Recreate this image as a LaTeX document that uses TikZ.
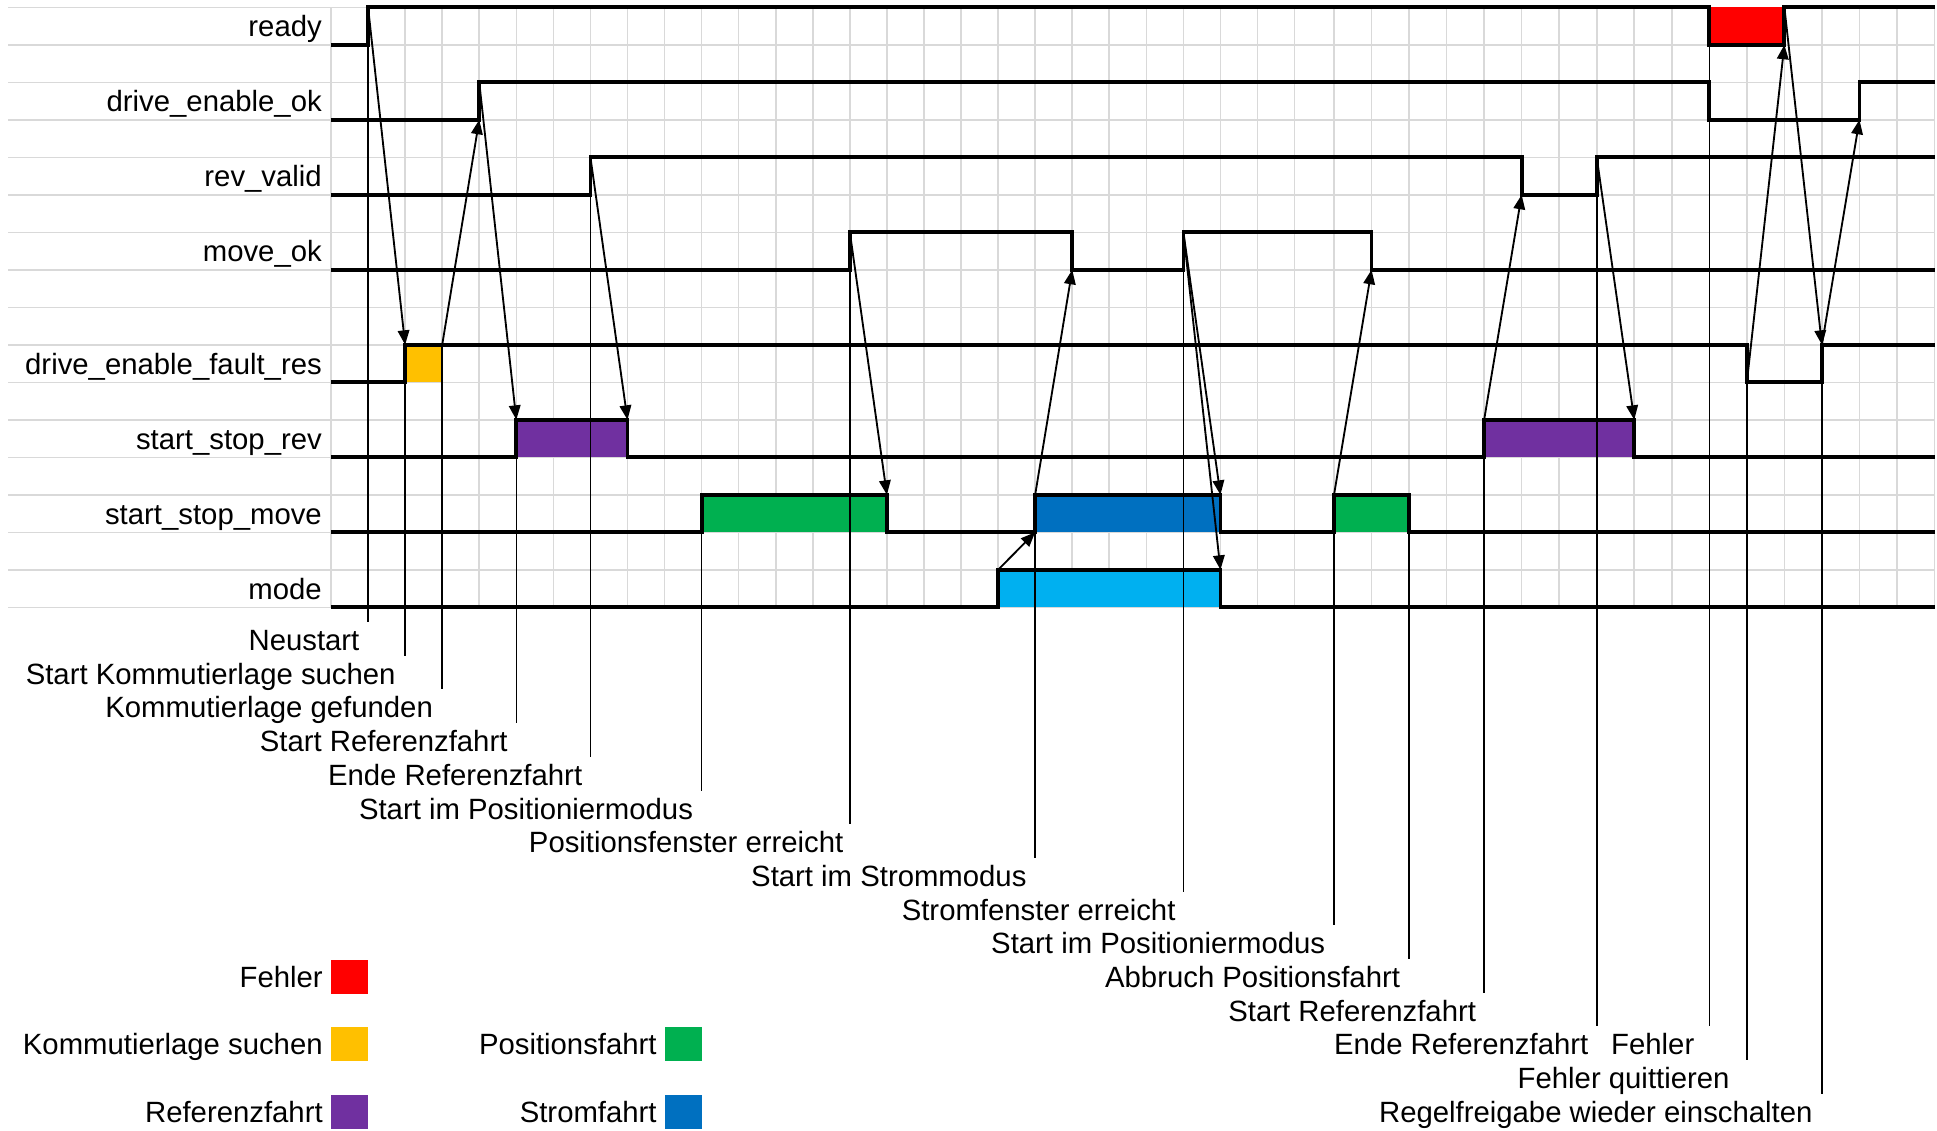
\documentclass[tikz,border=0pt]{standalone}
\usepackage{fontspec}
\setmainfont{Liberation Sans}
\usetikzlibrary{arrows.meta}
\definecolor{gridgray}{RGB}{217,217,217}
\definecolor{cRed}{RGB}{255,0,0}
\definecolor{cYellow}{RGB}{255,192,0}
\definecolor{cPurple}{RGB}{112,48,160}
\definecolor{cGreen}{RGB}{0,176,80}
\definecolor{cBlue}{RGB}{0,112,192}
\definecolor{cLightBlue}{RGB}{0,176,240}
\begin{document}
\begin{tikzpicture}[x=0.49545cm, y=-0.50134cm,
  declare function={cx(\c)=(\c<27)*\c+(\c>=27)*(27.064+1.01268*(\c-27));},
  font=\fontsize{11.15pt}{13pt}\selectfont,
  gridline/.style={draw=gridgray, line width=0.6pt},
  signal/.style={draw=black, line width=1.45pt, line join=miter},
  eventline/.style={draw=black, line width=0.6pt},
  cause/.style={draw=black, line width=0.7pt, -{Triangle[length=5.5pt,width=4.4pt]}},
  siglabel/.style={anchor=base east, inner sep=0pt},
  evlabel/.style={anchor=base east, inner sep=0pt},
  legendbox/.style={minimum width=0.49545cm, minimum height=0.454cm, inner sep=0pt, draw=none}]
\useasboundingbox (-8.932,-0.1947) rectangle (43.335,29.94);

% grid
\foreach \r in {0,...,16} \draw[gridline] (-8.716,\r) -- ({cx(43)},\r);
\foreach \c in {0,...,43} \draw[gridline] ({cx(\c)},0) -- ({cx(\c)},16);

% coloured phases
\fill[cRed] ({cx(37)},0) rectangle ({cx(39)},1);
\fill[cYellow] (2,9) rectangle (3,10);
\fill[cPurple] (5,11) rectangle (8,12);
\fill[cPurple] ({cx(31)},11) rectangle ({cx(35)},12);
\fill[cGreen] (10,13) rectangle (15,14);
\fill[cGreen] ({cx(27)},13) rectangle ({cx(29)},14);
\fill[cBlue] (19,13) rectangle (24,14);
\fill[cLightBlue] (18,15) rectangle (24,16);

% event lines and labels
\foreach \c/\s/\k/\x/\txt/\nm in {
  1/0/0/0.78/Neustart/ev1,
  2/9/1/1.757/Start Kommutierlage suchen/ev2,
  3/9/2/2.763/Kommutierlage gefunden/ev3,
  5/11/3/4.776/Start Referenzfahrt/ev4,
  7/4/4/6.792/Ende Referenzfahrt/ev5,
  10/13/5/9.781/Start im Positioniermodus/ev6,
  14/6/6/13.84/Positionsfenster erreicht/ev7,
  19/13/7/18.78/Start im Strommodus/ev8,
  23/6/8/22.80/Stromfenster erreicht/ev9,
  27/13/9/26.84/Start im Positioniermodus/ev10,
  29/13/10/28.86/Abbruch Positionsfahrt/ev11,
  31/11/11/30.91/Start Referenzfahrt/ev12,
  34/4/12/33.94/Ende Referenzfahrt/ev13,
  37/0/12/36.80/Fehler/ev14,
  38/9/13/37.75/Fehler quittieren/ev15,
  40/9/14/39.99/Regelfreigabe wieder einschalten/ev16}{
  \coordinate (\nm-top) at ({cx(\c)},\s);
  \coordinate (\nm-end) at ({cx(\c)},{16.392+0.8987*\k});
  \draw[eventline] (\nm-top) -- (\nm-end);
  \node[evlabel] (\nm) at (\x,{17.152+0.8987*\k}) {\txt};
}

% signal names
\node[siglabel] (l-ready) at (-0.235,0.78) {ready};
\node[siglabel] (l-deok) at (-0.235,2.78) {drive\_enable\_ok};
\node[siglabel] (l-rv) at (-0.235,4.78) {rev\_valid};
\node[siglabel] (l-mo) at (-0.235,6.78) {move\_ok};
\node[siglabel] (l-fres) at (-0.235,9.78) {drive\_enable\_fault\_res};
\node[siglabel] (l-ssr) at (-0.235,11.78) {start\_stop\_rev};
\node[siglabel] (l-ssm) at (-0.235,13.78) {start\_stop\_move};
\node[siglabel] (l-mode) at (-0.235,15.78) {mode};

% signals
\draw[signal] (0,1)--(1,1)--(1,0)--({cx(37)},0)--({cx(37)},1)--({cx(39)},1)--({cx(39)},0)--({cx(43)},0);
\draw[signal] (0,3)--(4,3)--(4,2)--({cx(37)},2)--({cx(37)},3)--({cx(41)},3)--({cx(41)},2)--({cx(43)},2);
\draw[signal] (0,5)--(7,5)--(7,4)--({cx(32)},4)--({cx(32)},5)--({cx(34)},5)--({cx(34)},4)--({cx(43)},4);
\draw[signal] (0,7)--(14,7)--(14,6)--(20,6)--(20,7)--(23,7)--(23,6)--({cx(28)},6)--({cx(28)},7)--({cx(43)},7);
\draw[signal] (0,10)--(2,10)--(2,9)--({cx(38)},9)--({cx(38)},10)--({cx(40)},10)--({cx(40)},9)--({cx(43)},9);
\draw[signal] (0,12)--(5,12)--(5,11)--(8,11)--(8,12)--({cx(31)},12)--({cx(31)},11)--({cx(35)},11)--({cx(35)},12)--({cx(43)},12);
\draw[signal] (0,14)--(10,14)--(10,13)--(15,13)--(15,14)--(19,14)--(19,13)--(24,13)--(24,14)--({cx(27)},14)--({cx(27)},13)--({cx(29)},13)--({cx(29)},14)--({cx(43)},14);
\draw[signal] (0,16)--(18,16)--(18,15)--(24,15)--(24,16)--({cx(43)},16);

% named signal points
\coordinate (ready-up) at (1,0);
\coordinate (fres-up) at (2,9);
\coordinate (fres-k) at (3,9);
\coordinate (deok-up-lo) at (4,3);
\coordinate (deok-up-hi) at (4,2);
\coordinate (ssr-up1) at (5,11);
\coordinate (rv-up1) at (7,4);
\coordinate (ssr-dn1) at (8,11);
\coordinate (mo-up1) at (14,6);
\coordinate (ssm-dn1) at (15,13);
\coordinate (mode-up) at (18,15);
\coordinate (ssm-up2) at (19,13);
\coordinate (ssm-up2-lo) at (19,14);
\coordinate (mo-dn1) at (20,7);
\coordinate (mo-up2) at (23,6);
\coordinate (ssm-dn2) at (24,13);
\coordinate (mode-dn) at (24,15);
\coordinate (ssm-up3) at ({cx(27)},13);
\coordinate (mo-dn2) at ({cx(28)},7);
\coordinate (ssr-up2) at ({cx(31)},11);
\coordinate (rv-dn) at ({cx(32)},5);
\coordinate (rv-up2) at ({cx(34)},4);
\coordinate (ssr-dn2) at ({cx(35)},11);
\coordinate (fres-dn-lo) at ({cx(38)},10);
\coordinate (ready-up2-lo) at ({cx(39)},1);
\coordinate (ready-up2) at ({cx(39)},0);
\coordinate (fres-up2) at ({cx(40)},9);
\coordinate (deok-up2-lo) at ({cx(41)},3);

% cause arrows
\draw[cause] (ready-up) -- (fres-up);
\draw[cause] (fres-k) -- (deok-up-lo);
\draw[cause] (deok-up-hi) -- (ssr-up1);
\draw[cause] (rv-up1) -- (ssr-dn1);
\draw[cause] (mo-up1) -- (ssm-dn1);
\draw[cause] (ssm-up2) -- (mo-dn1);
\draw[cause] (mode-up) -- (ssm-up2-lo);
\draw[cause] (mo-up2) -- (ssm-dn2);
\draw[cause] (mo-up2) -- (mode-dn);
\draw[cause] (ssm-up3) -- (mo-dn2);
\draw[cause] (ssr-up2) -- (rv-dn);
\draw[cause] (rv-up2) -- (ssr-dn2);
\draw[cause] (fres-dn-lo) -- (ready-up2-lo);
\draw[cause] (ready-up2) -- (fres-up2);
\draw[cause] (fres-up2) -- (deok-up2-lo);

% legend
\node[legendbox, fill=cRed] (lg-red) at (0.5,25.859) {};
\node[siglabel] (lg-red-t) at (-0.21,26.139) {Fehler};
\node[legendbox, fill=cYellow] (lg-yellow) at (0.5,27.656) {};
\node[siglabel] (lg-yellow-t) at (-0.21,27.936) {Kommutierlage suchen};
\node[legendbox, fill=cPurple] (lg-purple) at (0.5,29.454) {};
\node[siglabel] (lg-purple-t) at (-0.21,29.734) {Referenzfahrt};
\node[legendbox, fill=cGreen] (lg-green) at (9.5,27.656) {};
\node[siglabel] (lg-green-t) at (8.80,27.936) {Positionsfahrt};
\node[legendbox, fill=cBlue] (lg-blue) at (9.5,29.454) {};
\node[siglabel] (lg-blue-t) at (8.80,29.734) {Stromfahrt};
\end{tikzpicture}
\end{document}
